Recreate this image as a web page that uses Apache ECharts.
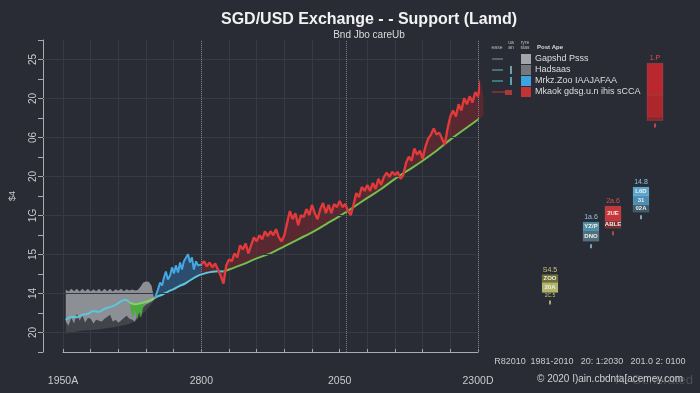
<!DOCTYPE html>
<html><head><meta charset="utf-8">
<script src="https://cdn.jsdelivr.net/npm/echarts@6/dist/echarts.min.js"></script>
<style>html,body{margin:0;padding:0;background:#292c35;}#c{width:700px;height:393px;}</style>
</head><body><div id="c"></div><script>
// ---------- tick labels ----------
const xTickValues = [1950, 2000, 2050, 2100];
const xTickLabels = ['1950A', '2800', '2050', '2300D'];
const yTickValues = [1, 3, 5, 7, 9, 11, 13, 15];
const yTickLabels = ['20', '14', '15', '1G', '20', '06', '20', '25'];
const dottedYears = [2000, 2052.5, 2100];
const periodLabels = ['R82010', '1981-2010', '20: 1:2030', '201.0 2: 0100'];

// ---------- series values [year, value] ----------
const grayTop = [[1951,3.20],[1952,3.10],[1953,3.25],[1954,3.12],[1955,3.25],[1956,3.10],[1957,3.24],[1958,3.12],[1959,3.25],[1960,3.10],[1961,3.22],[1962,3.12],[1963,3.25],[1964,3.10],[1965,3.24],[1966,3.12],[1967,3.25],[1968,3.10],[1969,3.22],[1970,3.14],[1971,3.24],[1972,3.12],[1973,3.22],[1974,3.15],[1975,3.20],[1976,3.15],[1977,3.18],[1978,3.35],[1979,3.56],[1980,3.62],[1981,3.60],[1982,3.40],[1983,2.70]];
const grayLow = [[1951,1.55],[1952,1.34],[1953,1.75],[1954,1.45],[1955,1.96],[1956,1.60],[1957,1.86],[1958,1.50],[1959,1.75],[1960,1.70],[1961,1.45],[1962,1.65],[1963,1.60],[1964,1.55],[1965,1.70],[1966,1.80],[1967,1.91],[1968,1.55],[1969,1.65],[1970,1.50],[1971,1.62],[1972,1.75],[1973,1.86],[1974,1.70],[1975,1.65],[1976,1.55],[1977,1.91],[1978,2.12],[1979,2.30],[1980,2.43],[1981,2.50],[1982,2.58],[1983,2.68]];
const grayBottom = [[1951,0.93],[1953,0.98],[1955,1.05],[1957,1.10],[1959,1.12],[1961,1.14],[1963,1.16],[1965,1.20],[1967,1.24],[1969,1.28],[1971,1.34],[1973,1.40],[1975,1.50],[1977,1.70],[1979,2.00],[1981,2.30],[1983,2.68]];
const cyanEarly = [[1951,1.65],[1953,1.80],[1955,1.78],[1957,1.91],[1959,1.96],[1961,2.10],[1963,2.06],[1965,2.22],[1967,2.30],[1969,2.42],[1971,2.60],[1972.5,2.68],[1974,2.55]];
const limeMid = [[1974,2.55],[1976,2.45],[1978,2.50],[1980,2.58],[1982,2.68],[1984,2.84]];
const cyanLate = [[1984,2.84],[1986,2.95],[1988,3.10],[1990,3.22],[1992,3.38],[1994,3.50],[1996,3.68],[1998,3.85],[2000,3.98],[2002,4.06],[2004,4.12],[2006,4.14],[2008,4.13]];
const greenTrend = [[2008,4.13],[2010,4.23],[2015,4.49],[2020,4.80],[2025,5.06],[2030,5.42],[2035,5.78],[2040,6.14],[2045,6.55],[2050,6.97],[2055,7.43],[2060,7.90],[2065,8.36],[2070,8.88],[2075,9.34],[2080,9.81],[2085,10.32],[2090,10.89],[2095,11.41],[2100,11.92],[2102,12.13]];
const greenSpikes = [[1974.2,2.55],[1974.6,2.06],[1975.3,1.75],[1976.0,2.17],[1976.7,1.65],[1977.5,2.06],[1978.2,1.75],[1978.9,2.27],[1979.6,2.43],[1980.4,2.60]];
const blueSpikes = [[1983.2,2.74],[1984.3,3.20],[1985.1,3.56],[1985.8,3.41],[1986.5,3.82],[1987.2,4.13],[1987.9,3.72],[1988.7,3.92],[1989.4,4.34],[1990.1,4.03],[1990.8,4.44],[1991.6,4.08],[1992.3,4.59],[1993.0,4.23],[1993.7,4.65],[1994.5,4.85],[1995.2,5.01],[1995.9,4.59],[1996.6,4.85],[1997.3,4.23],[1998.1,4.65],[1998.8,4.44],[1999.5,4.34],[2000.2,4.49]];
const redYears = [2000,2001,2002,2003,2004,2005,2006,2007,2008,2009,2010,2011,2012,2013,2014,2015,2016,2017,2018,2019,2020,2021,2022,2023,2024,2025,2026,2027,2028,2029,2030,2031,2032,2033,2034,2035,2036,2037,2038,2039,2040,2041,2042,2043,2044,2045,2046,2047,2048,2049,2050,2051,2052,2053,2054,2055,2056,2057,2058,2059,2060,2061,2062,2063,2064,2065,2066,2067,2068,2069,2070,2071,2072,2073,2074,2075,2076,2077,2078,2079,2080,2081,2082,2083,2084,2085,2086,2087,2088,2089,2090,2091,2092,2093,2094,2095,2096,2097,2098,2099,2100,2101,2102];
const redValues = [4.49,4.65,4.39,4.59,4.34,4.54,4.23,3.92,3.51,4.44,4.75,4.65,5.06,4.85,5.47,5.26,5.57,5.06,5.47,5.88,5.68,5.99,5.78,6.19,5.94,6.19,5.99,6.30,5.88,5.68,5.99,6.61,7.23,6.81,7.12,6.50,7.02,6.92,7.33,7.02,7.54,7.12,6.81,7.33,7.64,7.12,7.54,7.12,7.59,7.43,7.74,7.43,7.59,7.23,7.02,7.54,8.15,7.95,8.46,8.26,8.57,8.26,8.67,8.36,8.88,8.57,8.98,9.19,8.98,9.24,9.08,9.24,8.88,9.08,9.70,10.01,9.81,10.43,10.12,10.32,9.91,10.53,10.94,11.15,11.46,11.15,11.25,10.94,10.63,11.46,12.08,12.39,12.08,12.70,12.39,13.01,12.70,13.11,12.80,13.32,13.11,13.94,13.01];

// ---------- side boxes ----------
const boxX = [6.0, 10.1, 12.3, 15.1, 16.5];
const boxLevels = [[3.97,3.56,3.05],[6.66,6.19,5.68],[7.48,6.70,6.35],[8.46,8.00,7.54,7.17],[14.81,13.16,12.08,11.87]];
const boxTopLabels = ['S4.5','1a.6','2a.6','14.8','1.P'];
const boxInner = [['ZOO','20A'],['YZ/P','DNO'],['2UE','ABLE'],['L6D','31','02A'],['','','']];
const boxBottomLabels = ['2C.5','','','',''];

// ---------- legend ----------
const legendNames = ['Gapshd Psss','Hadsaas','Mrkz.Zoo IAAJAFAA','Mkaok gdsg.u.n ihis sCCA'];

const redData = redYears.map((y,i)=>[y, redValues[i]]);
const C = {
  bg:'#292c35', grid:'#363a44', axis:'#a9abb0', text:'#c9cacd',
  grayLight:'#8c8f94', grayDark:'#41444b', cyan:'#5cc6dd', lime:'#82d46a', green:'#74c04d',
  blue:'#45a8e2', blueFill:'rgba(46,88,128,0.75)', red:'#e23a3b', redFill:'rgba(150,36,42,0.45)', greenFill:'#4daa3e'
};
const boxFills = [['#6e6f33','#b2b46a'],['#4f90a6','#4e6f7e'],['#c8363a','#7a2a2e'],['#58a7cf','#4a8db5','#3a5a6c'],['#b8282e','#ad262b','#972327']];
const boxTopColors = ['#c9c77a','#8fc3d8','#d65050','#8cc6e6','#e05050'];

function band(name, upper, lower, color, z){
  return {
    type:'custom', name, xAxisIndex:1, yAxisIndex:1, z, silent:true,
    itemStyle:{color}, encode:{x:0,y:1}, data:[upper[0]],
    renderItem(params, api){
      const pts = upper.map(p=>api.coord(p)).concat(lower.slice().reverse().map(p=>api.coord(p)));
      return {type:'polygon', shape:{points:pts}, style:{fill:color}};
    }
  };
}
function line(name, data, color, width, smooth, z){
  return {type:'line', name, xAxisIndex:1, yAxisIndex:1, data, showSymbol:false, symbol:'none', smooth,
    clip:false, z, silent:true, lineStyle:{color, width}, itemStyle:{color}};
}

const redLower = cyanLate.filter(p=>p[0]>=2000).concat(greenTrend.slice(1));
const blueLower = cyanLate.filter(p=>p[0]<=2000);
const greenUpper = limeMid.filter(p=>p[0]<=1980);

const chart = echarts.init(document.getElementById('c'), null, {renderer:'canvas'});
chart.setOption({
  backgroundColor: C.bg,
  animation:false,
  textStyle:{fontFamily:'Liberation Sans'},
  title:{
    text:'SGD/USD Exchange - - Support (Lamd)', subtext:'Bnd Jbo careUb',
    left:364, top:7, textAlign:'center', itemGap:2,
    textStyle:{color:'#f2f2f2', fontSize:16, fontWeight:'bold', fontFamily:'Liberation Sans'},
    subtextStyle:{color:'#dcdcdc', fontSize:10, fontFamily:'Liberation Sans'}
  },
  legend:{
    orient:'vertical', left:521, top:54, padding:0, itemGap:1, itemWidth:10, itemHeight:10,
    icon:'rect', selectedMode:false,
    textStyle:{color:'#dedede', fontSize:9, padding:[0,0,0,-1]},
    data:[
      {name:legendNames[0], itemStyle:{color:'#a3a5a8'}},
      {name:legendNames[1], itemStyle:{color:'#75787c'}},
      {name:legendNames[2], itemStyle:{color:'#3ea3de'}},
      {name:legendNames[3], itemStyle:{color:'#c23336'}}
    ]
  },
  grid:[
    {left:42, right:222, top:40, bottom:41},
    {left:63, right:222, top:40, bottom:41},
    {left:490, right:0, top:40, bottom:41}
  ],
  xAxis:[
    {gridIndex:0, type:'value', min:0, max:1, show:false},
    {gridIndex:1, type:'value', min:1950, max:2100, interval:10, offset:13,
      axisLine:{show:true, lineStyle:{color:C.axis}},
      axisTick:{show:true, inside:true, length:3, lineStyle:{color:C.axis}},
      axisLabel:{margin:11, color:C.text, fontSize:10.5,
        formatter:v=>{const i=xTickValues.indexOf(v); return i<0?'':xTickLabels[i];}},
      splitLine:{show:true, lineStyle:{color:C.grid, width:1}}},
    {gridIndex:2, type:'value', min:0, max:21, show:false}
  ],
  yAxis:[
    {gridIndex:0, type:'value', min:0, max:16, interval:1,
      name:'$4', nameLocation:'middle', nameGap:26, nameRotate:90,
      nameTextStyle:{color:C.text, fontSize:9},
      axisLine:{show:true, lineStyle:{color:C.axis}},
      axisTick:{show:true, length:5, lineStyle:{color:C.axis}},
      axisLabel:{rotate:90, margin:5, color:C.text, fontSize:10,
        formatter:v=>{const i=yTickValues.indexOf(v); return i<0?'':yTickLabels[i];}},
      splitLine:{show:false}},
    {gridIndex:1, type:'value', min:0, max:16, show:false},
    {gridIndex:2, type:'value', min:0, max:16, show:false}
  ],
  series:[
    {type:'line', xAxisIndex:0, yAxisIndex:0, data:[[0,0]], symbol:'none', lineStyle:{opacity:0}, silent:true, z:0,
      markLine:{silent:true, symbol:'none', label:{show:false}, animation:false,
        lineStyle:{color:C.grid, type:'solid', width:1},
        data: yTickValues.map(v=>({yAxis:v}))}},
    {type:'line', xAxisIndex:1, yAxisIndex:1, data:[[1950,0]], symbol:'none', lineStyle:{opacity:0}, silent:true, z:0,
      markLine:{silent:true, symbol:'none', label:{show:false}, animation:false,
        lineStyle:{color:'#7a7d85', type:'dotted', width:1},
        data: dottedYears.map(v=>({xAxis:v}))}},
    band(legendNames[1], grayLow, grayBottom, C.grayDark, 1),
    band(legendNames[0], grayTop, grayLow, C.grayLight, 1),
    band('greenArea', greenUpper, greenSpikes, C.greenFill, 2),
    band('blueFill', blueSpikes, blueLower, C.blueFill, 2),
    band('redFill', redData, redLower, C.redFill, 2),
    line('cyanEarly', cyanEarly, C.cyan, 2, 0.4, 4),
    line('limeMid', limeMid, C.lime, 2, 0.4, 4),
    line('cyanLate', cyanLate, C.cyan, 2, 0.4, 4),
    line('greenTrend', greenTrend, C.green, 2, 0.4, 4),
    line(legendNames[2], blueSpikes, C.blue, 2, false, 5),
    line(legendNames[3], redData, C.red, 2.4, false, 5),
    {type:'custom', name:'boxes', xAxisIndex:2, yAxisIndex:2, silent:true, z:5,
      encode:{x:0,y:1}, data: boxX.map((x,i)=>[x, boxLevels[i][0]]),
      renderItem(params, api){
        const i = params.dataIndex, lv = boxLevels[i], x = boxX[i];
        const w = api.size([1.6,0])[0];
        const ch = [];
        for(let k=0;k<lv.length-1;k++){
          const p1 = api.coord([x, lv[k]]), p2 = api.coord([x, lv[k+1]]);
          ch.push({type:'rect', shape:{x:p1[0]-w/2, y:p1[1], width:w, height:p2[1]-p1[1]},
            style:{fill:boxFills[i][k], stroke:'rgba(255,255,255,0.15)', lineWidth:0.5}});
          if(boxInner[i][k]) ch.push({type:'text', style:{text:boxInner[i][k], x:p1[0], y:(p1[1]+p2[1])/2,
            align:'center', verticalAlign:'middle', fill:'#efefe6', fontSize:6, fontWeight:'bold'}});
        }
        const top = api.coord([x, lv[0]]), bot = api.coord([x, lv[lv.length-1]]);
        ch.push({type:'text', style:{text:boxTopLabels[i], x:top[0], y:top[1]-1.5, align:'center',
          verticalAlign:'bottom', fill:boxTopColors[i], fontSize:7}});
        let off = 3;
        if(boxBottomLabels[i]){
          ch.push({type:'text', style:{text:boxBottomLabels[i], x:bot[0], y:bot[1]+1, align:'center',
            verticalAlign:'top', fill:boxTopColors[i], fontSize:5}});
          off = 8;
        }
        ch.push({type:'rect', shape:{x:bot[0]-0.8, y:bot[1]+off, width:1.6, height:4}, style:{fill:boxTopColors[i]}});
        return {type:'group', children:ch};
      }}
  ],
  graphic:[
    // legend line-style column
    {type:'line', shape:{x1:492,y1:59,x2:503,y2:59}, style:{stroke:'#7d9ba2', lineWidth:1}},
    {type:'line', shape:{x1:492,y1:70,x2:503,y2:70}, style:{stroke:'#6fb3bd', lineWidth:1}},
    {type:'line', shape:{x1:511,y1:66,x2:511,y2:74}, style:{stroke:'#8cc8d0', lineWidth:1.5}},
    {type:'line', shape:{x1:492,y1:81,x2:503,y2:81}, style:{stroke:'#4fc0d0', lineWidth:1}},
    {type:'line', shape:{x1:511,y1:77,x2:511,y2:85}, style:{stroke:'#5fd0e0', lineWidth:1.5}},
    {type:'line', shape:{x1:492,y1:92,x2:505,y2:92}, style:{stroke:'#b83a3a', lineWidth:1}},
    {type:'rect', shape:{x:505,y:90,width:7,height:5}, style:{fill:'#a8383a'}},
    {type:'text', style:{text:'ease', x:497, y:48, align:'center', verticalAlign:'middle', fill:'#bbb', fontSize:5}},
    {type:'text', style:{text:'ua\nan', x:511, y:45, align:'center', verticalAlign:'middle', fill:'#bbb', fontSize:5, lineHeight:5}},
    {type:'text', style:{text:'ryre\nstas', x:525, y:45, align:'center', verticalAlign:'middle', fill:'#bbb', fontSize:5, lineHeight:5}},
    {type:'text', style:{text:'Post Ape', x:537, y:47, align:'left', verticalAlign:'middle', fill:'#ddd', fontSize:6, fontWeight:'bold'}},
    // period labels under side panel
    {type:'text', style:{text:periodLabels[0], x:510, y:362, align:'center', verticalAlign:'middle', fill:C.text, fontSize:9}},
    {type:'text', style:{text:periodLabels[1], x:552, y:362, align:'center', verticalAlign:'middle', fill:C.text, fontSize:9}},
    {type:'text', style:{text:periodLabels[2], x:602, y:362, align:'center', verticalAlign:'middle', fill:C.text, fontSize:9}},
    {type:'text', style:{text:periodLabels[3], x:658, y:362, align:'center', verticalAlign:'middle', fill:C.text, fontSize:9}},
    // footer
    {type:'text', style:{text:'AI Generated', x:693, y:380, align:'right', verticalAlign:'middle', fill:'rgba(200,200,205,0.22)', fontSize:13}},
    {type:'text', style:{text:'© 2020 I)ain.cbdnta[acemey.com', x:537, y:379, align:'left', verticalAlign:'middle', fill:'#d0d0d0', fontSize:10}}
  ]
});
</script></body></html>
